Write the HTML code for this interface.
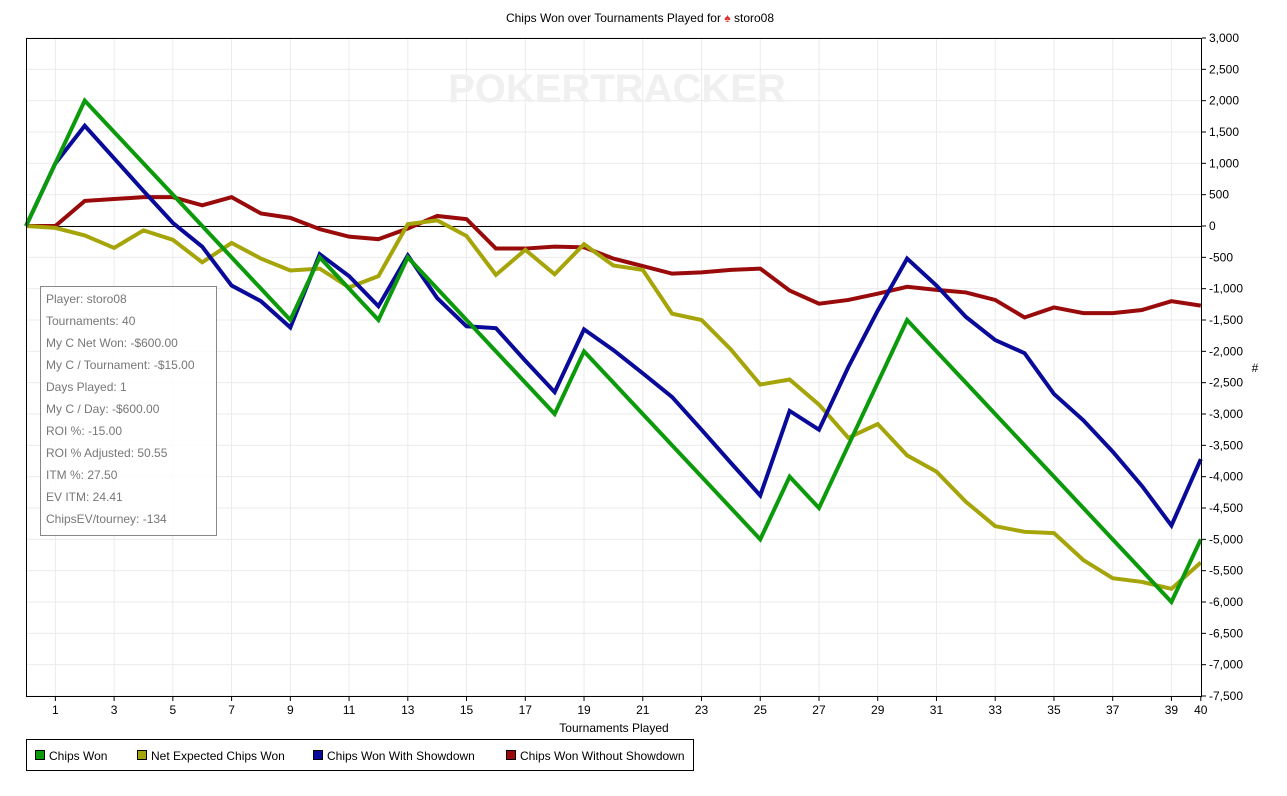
<!DOCTYPE html>
<html><head><meta charset="utf-8"><style>
body{margin:0;background:#fff;width:1287px;height:791px;overflow:hidden;font-family:"Liberation Sans",sans-serif}
svg text{font-family:"Liberation Sans",sans-serif}
</style></head><body>
<svg id="s" width="1287" height="791" xmlns="http://www.w3.org/2000/svg">
<text x="640" y="22" font-size="12" text-anchor="middle" fill="#000">Chips Won over Tournaments Played for <tspan fill="#d33">♠</tspan> storo08</text>
<g id="grid" stroke="#ebebeb" stroke-width="1"></g>
<text x="617" y="102" font-size="40" font-weight="bold" text-anchor="middle" fill="#f0f0f0">POKERTRACKER</text>
<line x1="26" y1="226.5" x2="1202" y2="226.5" stroke="#000" stroke-width="1"/>
<g id="lines" fill="none" stroke-width="4" stroke-linejoin="miter"></g>
<rect x="26.5" y="38.5" width="1175" height="658" fill="none" stroke="#000"/>
<g id="ticks" font-size="12" fill="#000"></g>
<text x="614" y="732" font-size="12" text-anchor="middle">Tournaments Played</text>
<text x="1255" y="372" font-size="12" text-anchor="middle">#</text>
<rect x="40.5" y="286.5" width="176" height="249" fill="#fff" fill-opacity="0.85" stroke="#888"/>
<g font-size="12" fill="#777">
<text x="46" y="303">Player: storo08</text>
<text x="46" y="325">Tournaments: 40</text>
<text x="46" y="347">My C Net Won: -$600.00</text>
<text x="46" y="369">My C / Tournament: -$15.00</text>
<text x="46" y="391">Days Played: 1</text>
<text x="46" y="413">My C / Day: -$600.00</text>
<text x="46" y="435">ROI %: -15.00</text>
<text x="46" y="457">ROI % Adjusted: 50.55</text>
<text x="46" y="479">ITM %: 27.50</text>
<text x="46" y="501">EV ITM: 24.41</text>
<text x="46" y="523">ChipsEV/tourney: -134</text>
</g>
<rect x="26.5" y="739.5" width="667" height="31" fill="#fff" stroke="#000"/>
<g font-size="12">
<rect x="35.5" y="750.5" width="9" height="9" fill="#0a9a0a" stroke="#000"/><text x="49" y="760">Chips Won</text>
<rect x="137.5" y="750.5" width="9" height="9" fill="#a5a50a" stroke="#000"/><text x="151" y="760">Net Expected Chips Won</text>
<rect x="313.5" y="750.5" width="9" height="9" fill="#0a0a9a" stroke="#000"/><text x="327" y="760">Chips Won With Showdown</text>
<rect x="506.5" y="750.5" width="9" height="9" fill="#9a0a0a" stroke="#000"/><text x="520" y="760">Chips Won Without Showdown</text>
</g>
</svg>
<script>
var NS="http://www.w3.org/2000/svg";
function X(t){return 26+29.37*t}
function Y(v){return 226-v*0.062667}
function el(n,a,p){var e=document.createElementNS(NS,n);for(var k in a)e.setAttribute(k,a[k]);p.appendChild(e);return e}
var g=document.getElementById('grid'),tk=document.getElementById('ticks');
for(var v=3000;v>=-7500;v-=500){var y=Y(v);el('line',{x1:26,x2:1202,y1:y,y2:y},g);
el('line',{x1:1202,x2:1206,y1:y,y2:y,stroke:'#000'},tk);
var t=el('text',{x:1209,y:y+4},tk);t.textContent=(v<0?'-':'')+Math.abs(v).toLocaleString('en-US');}
for(var i=1;i<=40;i+=2){el('line',{x1:X(i),x2:X(i),y1:38,y2:697},g);}
var labs=[];for(i=1;i<40;i+=2)labs.push(i);labs.push(40);
labs.forEach(function(i){el('line',{x1:X(i),x2:X(i),y1:697,y2:701,stroke:'#000'},tk);var t=el('text',{x:X(i),y:714,'text-anchor':'middle'},tk);t.textContent=i;});
function interp(k){var o=[];for(var j=0;j<k.length-1;j++){var a=k[j],b=k[j+1];for(var t=a[0];t<b[0];t++)o.push([t,a[1]+(b[1]-a[1])*(t-a[0])/(b[0]-a[0])]);}o.push(k[k.length-1]);return o}
var red=[0,0,400,430,460,460,330,460,200,130,-50,-170,-210,-40,160,110,-360,-360,-330,-340,-520,-640,-760,-740,-700,-680,-1030,-1240,-1180,-1080,-970,-1020,-1060,-1180,-1460,-1300,-1390,-1390,-1340,-1200,-1270];
var olive=[0,-30,-150,-350,-70,-220,-580,-270,-520,-710,-680,-980,-800,30,90,-160,-780,-380,-770,-290,-630,-700,-1400,-1500,-1970,-2530,-2450,-2850,-3380,-3160,-3660,-3920,-4400,-4790,-4880,-4900,-5330,-5620,-5680,-5790,-5370];
var blue=[0,1000,1600,1080,560,50,-330,-950,-1200,-1620,-450,-800,-1280,-470,-1150,-1600,-1630,-2150,-2650,-1650,-1980,-2350,-2730,-3250,-3780,-4300,-2950,-3250,-2250,-1350,-520,-950,-1450,-1820,-2030,-2680,-3100,-3600,-4150,-4780,-3720];
var green=interp([[0,0],[2,2000],[9,-1500],[10,-500],[12,-1500],[13,-500],[18,-3000],[19,-2000],[25,-5000],[26,-4000],[27,-4500],[30,-1500],[39,-6000],[40,-5000]]).map(function(p){return p[1]});
var L=document.getElementById('lines');
[[red,'#990a0a'],[olive,'#a5a50a'],[blue,'#0a0a9a'],[green,'#0a9a0a']].forEach(function(s){
el('polyline',{points:s[0].map(function(v,i){return X(i)+','+Y(v)}).join(' '),stroke:s[1]},L);});
</script>
</body></html>
